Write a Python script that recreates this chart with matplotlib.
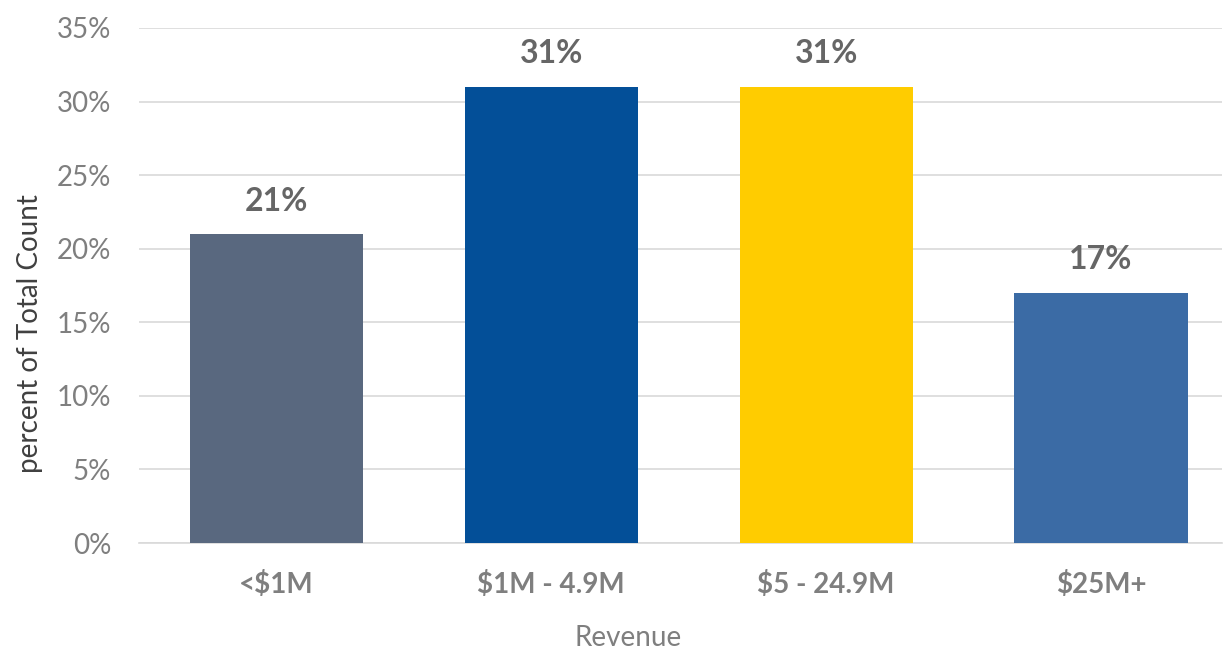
import matplotlib
matplotlib.use("Agg")
import matplotlib.pyplot as plt
from matplotlib.ticker import FuncFormatter

categories = ["<$1M", "$1M - 4.9M", "$5 - 24.9M", "$25M+"]
percent_values = [21, 31, 31, 17]
bar_colors = ["#59687F", "#034F98", "#FFCC00", "#3B6BA5"]
y_ticks = [0, 5, 10, 15, 20, 25, 30, 35]

plt.rcParams["font.family"] = ["Lato", "DejaVu Sans"]

fig = plt.figure(figsize=(12.25, 6.51), dpi=100)
ax = fig.add_axes([139 / 1225, 1 - 543 / 651, (1222 - 139) / 1225, (543 - 28) / 651])

x = list(range(len(categories)))
bars = ax.bar(x, percent_values, width=0.63, color=bar_colors, zorder=3)

for xi, v in zip(x, percent_values):
    ax.text(xi, v + 1.25, f"{v}%", ha="center", va="bottom",
            fontsize=23, fontweight="bold", color="#666666")

ax.set_xlim(-0.5, 3.44)
ax.set_ylim(0, 35)
ax.set_yticks(y_ticks)
ax.yaxis.set_major_formatter(FuncFormatter(lambda v, p: f"{v:.0f}%"))
ax.set_xticks(x)
ax.set_xticklabels(categories)
ax.tick_params(axis="y", labelsize=20, labelcolor="#7F7F7F", length=0, pad=20)
ax.tick_params(axis="x", labelsize=20, labelcolor="#7F7F7F", length=0, pad=20)
for lbl in ax.get_xticklabels():
    lbl.set_fontweight("bold")

ax.grid(axis="y", color="#D9D9D9", linewidth=1.2, zorder=0)
for s in ["top", "right", "left"]:
    ax.spines[s].set_visible(False)
ax.spines["bottom"].set_color("#D9D9D9")
ax.spines["bottom"].set_linewidth(1.2)

ax.set_xlabel("Revenue", fontsize=20, color="#7F7F7F", va="center")
ax.xaxis.set_label_coords(0.4515, -0.184)
ax.set_ylabel("percent of Total Count", fontsize=20, color="#404040", va="center")
ax.yaxis.set_label_coords(-0.1006, 0.406)

fig.savefig("out.png", dpi=100)
